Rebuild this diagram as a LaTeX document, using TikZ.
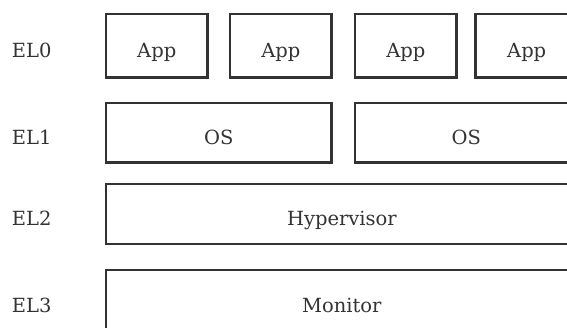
\documentclass[tikz,border=0pt]{standalone}
\usepackage{fontspec}
\setmainfont{DejaVu Serif}
\definecolor{ink}{HTML}{333333}
\begin{document}
\begin{tikzpicture}[x=1pt,y=-1pt,
  lay/.style={draw=ink, line width=2.8pt, text=ink, inner sep=0pt, outer sep=0pt,
    font=\fontsize{19.5}{24}\selectfont, text height=23.6pt, text depth=0pt},
  lvl/.style={text=ink, inner sep=0pt, anchor=base west, font=\fontsize{19.5}{24}\selectfont}]
\useasboundingbox (0,0) rectangle (567,328);
\clip (0,0) rectangle (567,328);
% EL0 apps
\node[lay, minimum width=101.5pt, minimum height=63.5pt] (app1) at (156.75,45.75) {App};
\node[lay, minimum width=101.7pt, minimum height=63.5pt] (app2) at (280.85,45.75) {App};
\node[lay, minimum width=101.7pt, minimum height=63.5pt] (app3) at (405.85,45.75) {App};
\node[lay, minimum width=102pt, minimum height=63.5pt] (app4) at (526.7,45.75) {App};
% EL1 OS
\node[lay, minimum width=225.7pt, minimum height=59.5pt] (os1) at (218.85,132.75) {OS};
\node[lay, minimum width=222.7pt, minimum height=59.5pt] (os2) at (466.35,132.75) {OS};
% EL2
\node[lay, minimum width=471.7pt, minimum height=60pt] (hyp) at (341.85,214) {Hypervisor};
% EL3
\node[lay, minimum width=471.7pt, minimum height=62pt] (mon) at (341.85,301) {Monitor};
% level labels
\node[lvl] (el0) at (11.7,57.5) {EL0};
\node[lvl] (el1) at (11.7,144.5) {EL1};
\node[lvl] (el2) at (11.7,225.8) {EL2};
\node[lvl] (el3) at (11.7,312.8) {EL3};
\end{tikzpicture}
\end{document}
